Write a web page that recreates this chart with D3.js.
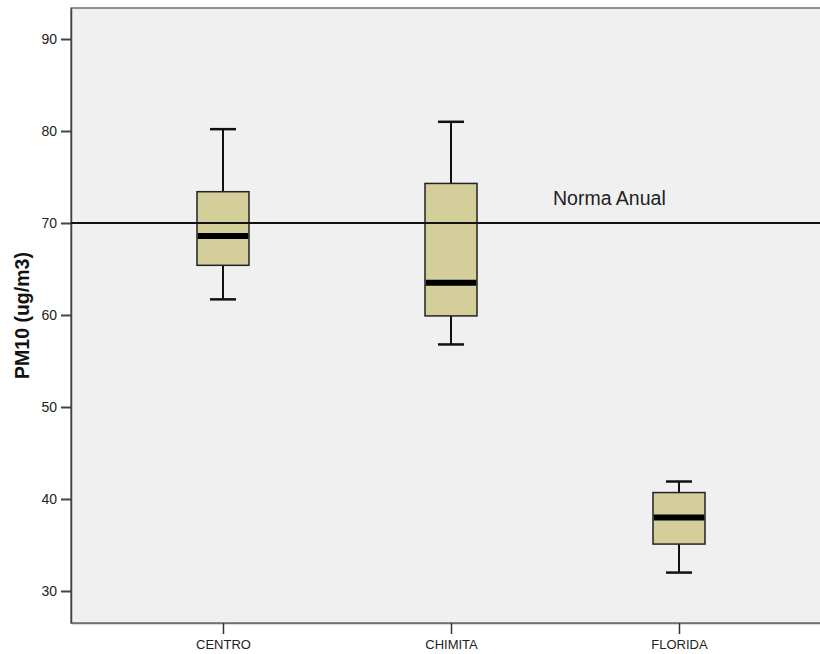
<!DOCTYPE html>
<html>
<head>
<meta charset="utf-8">
<script src="https://cdn.jsdelivr.net/npm/d3@7"></script>
<style>
  html, body { margin: 0; padding: 0; background: #ffffff; }
  svg { display: block; }
  text { font-family: "Liberation Sans", Arial, sans-serif; }
</style>
</head>
<body>
<div id="chart"></div>
<script>
// PM10 annual concentrations per monitoring station
const stations = ["CENTRO", "CHIMITA", "FLORIDA"];
const whiskerLow  = [61.7, 56.8, 32.0];
const q1          = [65.4, 59.9, 35.1];
const medians     = [68.6, 63.5, 38.0];
const q3          = [73.4, 74.3, 40.7];
const whiskerHigh = [80.2, 81.0, 41.9];

const yTicks = [30, 40, 50, 60, 70, 80, 90];
const annualLimit = 70;
const limitLabel = "Norma Anual";
const yTitle = "PM10 (ug/m3)";

const boxes = stations.map((s, i) => ({
  station: s,
  lo: whiskerLow[i], q1: q1[i], med: medians[i], q3: q3[i], hi: whiskerHigh[i]
}));

const W = 820, H = 654;
const plot = { left: 71, top: 8, right: 831, bottom: 623 };

const svg = d3.select("#chart").append("svg")
  .attr("width", W).attr("height", H);

const x = d3.scalePoint()
  .domain(stations)
  .range([plot.left, plot.right])
  .padding(2 / 3);

const y = d3.scaleLinear()
  .domain([26.52, 93.37])
  .range([plot.bottom, plot.top]);

// plot background
svg.append("rect")
  .attr("x", plot.left).attr("y", plot.top)
  .attr("width", plot.right - plot.left)
  .attr("height", plot.bottom - plot.top)
  .attr("fill", "#f0f0f0")
  .attr("stroke", "#707070")
  .attr("stroke-width", 1.5);

// y axis
const yAxis = svg.append("g")
  .attr("transform", `translate(${plot.left},0)`)
  .call(d3.axisLeft(y).tickValues(yTicks).tickSize(10).tickPadding(4).tickSizeOuter(0));
yAxis.select(".domain").attr("stroke", "#444").attr("stroke-width", 1.5);
yAxis.selectAll(".tick line").attr("stroke", "#444").attr("stroke-width", 2);
yAxis.selectAll(".tick text")
  .attr("fill", "#222")
  .style("font-size", "14px");

// x axis
const xAxis = svg.append("g")
  .attr("transform", `translate(0,${plot.bottom})`)
  .call(d3.axisBottom(x).tickSize(11).tickPadding(6).tickSizeOuter(0));
xAxis.select(".domain").attr("stroke", "#707070").attr("stroke-width", 1.5);
xAxis.selectAll(".tick line").attr("stroke", "#333").attr("stroke-width", 1.5);
xAxis.selectAll(".tick text")
  .attr("fill", "#222")
  .style("font-size", "13px");

// y axis title
svg.append("text")
  .attr("transform", `translate(29,${(plot.top + plot.bottom) / 2}) rotate(-90)`)
  .attr("text-anchor", "middle")
  .style("font-size", "19.5px")
  .style("font-weight", "bold")
  .attr("fill", "#111")
  .text(yTitle);

// boxes
const boxW = 52, capW = 26;
const g = svg.append("g");
const bx = g.selectAll("g.box").data(boxes).join("g").attr("class", "box");

// whiskers
bx.append("line")
  .attr("x1", d => x(d.station)).attr("x2", d => x(d.station))
  .attr("y1", d => y(d.hi)).attr("y2", d => y(d.q3))
  .attr("stroke", "#111").attr("stroke-width", 2);
bx.append("line")
  .attr("x1", d => x(d.station)).attr("x2", d => x(d.station))
  .attr("y1", d => y(d.q1)).attr("y2", d => y(d.lo))
  .attr("stroke", "#111").attr("stroke-width", 2);
// caps
bx.selectAll("line.cap").data(d => [{ s: d.station, v: d.hi }, { s: d.station, v: d.lo }])
  .join("line").attr("class", "cap")
  .attr("x1", d => x(d.s) - capW / 2).attr("x2", d => x(d.s) + capW / 2)
  .attr("y1", d => y(d.v)).attr("y2", d => y(d.v))
  .attr("stroke", "#111").attr("stroke-width", 2.5);

// interquartile box
bx.append("rect")
  .attr("x", d => x(d.station) - boxW / 2)
  .attr("y", d => y(d.q3))
  .attr("width", boxW)
  .attr("height", d => y(d.q1) - y(d.q3))
  .attr("fill", "#d3ce9a")
  .attr("stroke", "#222")
  .attr("stroke-width", 1.5);

// reference line for the annual limit
svg.append("line")
  .attr("x1", plot.left).attr("x2", W)
  .attr("y1", y(annualLimit)).attr("y2", y(annualLimit))
  .attr("stroke", "#111").attr("stroke-width", 2);

// medians
bx.append("line")
  .attr("x1", d => x(d.station) - boxW / 2 + 0.75).attr("x2", d => x(d.station) + boxW / 2 - 0.75)
  .attr("y1", d => y(d.med)).attr("y2", d => y(d.med))
  .attr("stroke", "#000").attr("stroke-width", 6);

svg.append("text")
  .attr("x", 553).attr("y", y(annualLimit) - 18)
  .style("font-size", "19.5px")
  .attr("fill", "#222")
  .text(limitLabel);
</script>
</body>
</html>
